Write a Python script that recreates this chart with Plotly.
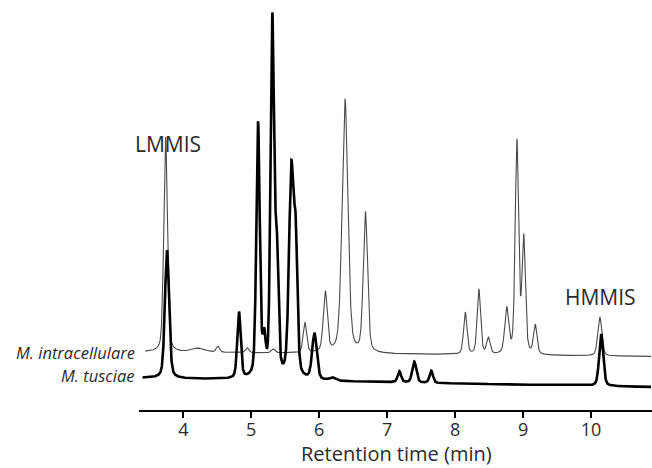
import numpy as np
import plotly.graph_objects as go

# ---- data (retention time in min, response in arbitrary units) ----
# M. intracellulare (thin trace)
intra_rt     = [3.74, 4.22, 4.51, 4.94, 5.32, 5.79, 6.09, 6.38, 6.68, 8.15, 8.35, 8.49, 8.76, 8.91, 9.01, 9.18, 10.13]
intra_height = [215, 4, 6, 5, 4, 30, 60, 254, 140, 42, 65, 16, 45, 212, 115, 29, 39]
intra_width  = [0.032, 0.12, 0.03, 0.03, 0.03, 0.03, 0.035, 0.05, 0.037, 0.03, 0.03, 0.03, 0.035, 0.03, 0.03, 0.03, 0.035]
intra_base_start, intra_base_drift = 58.0, -0.6      # baseline level at t0 and drift per min

# M. tusciae (thick trace)
tus_rt     = [3.76, 4.82, 5.10, 5.19, 5.31, 5.375, 5.59, 5.655, 5.93, 6.19, 7.18, 7.40, 7.65, 10.15]
tus_height = [128, 66, 254, 34, 355, 120, 207, 120, 46, 3, 11, 21, 12, 52]
tus_width  = [0.036, 0.03, 0.03, 0.025, 0.03, 0.028, 0.04, 0.03, 0.04, 0.05, 0.03, 0.035, 0.03, 0.035]
tus_base_start, tus_base_drift = 32.0, -1.2

t0 = 3.4
peak_mix = 0.35          # Lorentzian fraction of each peak shape

x_ticks = [4, 5, 6, 7, 8, 9, 10]
x_title = "Retention time (min)"
labels = {"LMMIS": (3.77, 266), "HMMIS": (10.14, 113)}
trace_names = ["M. intracellulare", "M. tusciae"]


def chromatogram(t, rts, hs, ws, base0, drift):
    y = base0 + drift * (t - t0)
    for rt, h, w in zip(rts, hs, ws):
        d = (t - rt) / w
        y = y + h * ((1 - peak_mix) * np.exp(-np.log(2) * d * d) + peak_mix / (1 + d * d))
    return y


t_intra = np.arange(3.44, 10.885, 0.002)
t_tus = np.arange(3.40, 10.885, 0.002)
y_intra = chromatogram(t_intra, intra_rt, intra_height, intra_width, intra_base_start, intra_base_drift)
y_tus = chromatogram(t_tus, tus_rt, tus_height, tus_width, tus_base_start, tus_base_drift)

fig = go.Figure()
fig.add_trace(go.Scatter(x=t_intra, y=y_intra, mode="lines", name=trace_names[0],
                         line=dict(color="#4a4a4a", width=1.1), hoverinfo="skip"))
fig.add_trace(go.Scatter(x=t_tus, y=y_tus, mode="lines", name=trace_names[1],
                         line=dict(color="#000000", width=2.6), hoverinfo="skip"))

font_family = "Open Sans, Noto Sans, sans-serif"
text_color = "#2b2b2b"
for txt, (xx, yy) in labels.items():
    fig.add_annotation(x=xx, y=yy, text=txt, showarrow=False,
                       font=dict(family=font_family, size=21, color=text_color))

# trace names sit left of the plot area (paper coordinates)
fig.add_annotation(xref="paper", x=-0.004, y=intra_base_start, text="<i>" + trace_names[0] + "</i>",
                   showarrow=False, xanchor="right",
                   font=dict(family=font_family, size=16.5, color=text_color))
fig.add_annotation(xref="paper", x=-0.004, y=tus_base_start + 3, text="<i>" + trace_names[1] + "</i>",
                   showarrow=False, xanchor="right",
                   font=dict(family=font_family, size=16.5, color=text_color))

# axis title placed below the tick labels, hugging the bottom edge
fig.add_annotation(xref="paper", yref="paper", x=0.502, y=-58 / 405, yanchor="bottom",
                   text=x_title, showarrow=False, borderpad=0,
                   font=dict(family=font_family, size=20, color=text_color))

fig.update_layout(
    width=652, height=468,
    margin=dict(l=139, r=0, t=5, b=58),
    paper_bgcolor="white", plot_bgcolor="white",
    showlegend=False,
    font=dict(family=font_family, color=text_color),
)
fig.update_xaxes(range=[3.348, 10.898], tickvals=x_ticks, ticks="outside", ticklen=6, tickwidth=1.5,
                 tickcolor="black", showline=True, linecolor="black", linewidth=1.5,
                 showgrid=False, zeroline=False, tickfont=dict(size=18), automargin=False,
                 ticklabelstandoff=-3)
fig.update_yaxes(range=[0, 405], visible=False, showgrid=False, zeroline=False)

fig.write_html("out.html", config={"displayModeBar": False},
               post_script="document.body.style.margin='0';document.body.style.overflow='hidden';")
